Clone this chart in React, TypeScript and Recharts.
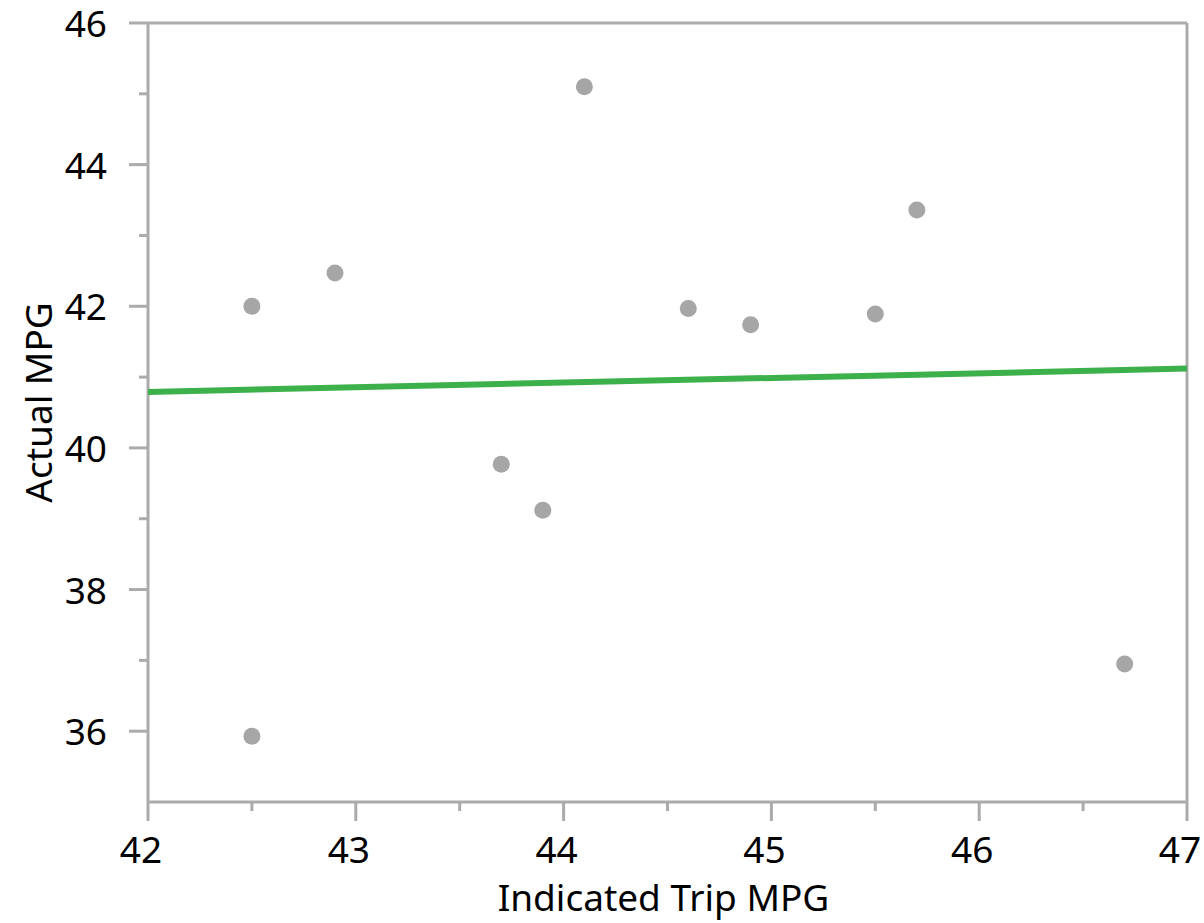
import { ScatterChart, Scatter, XAxis, YAxis, ReferenceLine, Label } from 'recharts';

const indicatedMpg = [42.5, 42.9, 42.5, 43.7, 43.9, 44.1, 44.6, 44.9, 45.5, 45.7, 46.7];
const actualMpg = [42.0, 42.47, 35.93, 39.77, 39.12, 45.1, 41.97, 41.74, 41.89, 43.36, 36.95];

const trendX = [42, 47];
const trendY = [40.79, 41.12];

const xTicks = [42, 42.5, 43, 43.5, 44, 44.5, 45, 45.5, 46, 46.5, 47];
const yTicks = [35, 36, 37, 38, 39, 40, 41, 42, 43, 44, 45, 46];

const points = indicatedMpg.map((x, i) => ({ x, y: actualMpg[i] }));
const trend = trendX.map((x, i) => ({ x, y: trendY[i] }));

const AXIS = '#ababab';
const FONT = '"Noto Sans", "Open Sans", sans-serif';
const FS = 37;

const XTick = (props: any) => {
  const { x, y, payload } = props;
  const major = Number.isInteger(payload.value);
  // y is the text position: axis line + tickSize + tickMargin
  const top = y - 35;
  return (
    <g>
      <line x1={x} x2={x} y1={top} y2={top + (major ? 19 : 9)} stroke={AXIS} strokeWidth={3} />
      {major && (
        <text x={x - 7} y={y} dy="0.71em" textAnchor="middle" fill="#000" fontSize={FS} fontFamily={FONT}>
          {payload.value}
        </text>
      )}
    </g>
  );
};

const YTick = (props: any) => {
  const { x, y, payload } = props;
  const major = payload.value % 2 === 0;
  const axisX = x + 41;
  if (payload.value === 35) return null;
  return (
    <g>
      <line x1={axisX - (major ? 19 : 9)} x2={axisX} y1={y} y2={y} stroke={AXIS} strokeWidth={3} />
      {major && (
        <text x={x} y={y} dy="0.38em" textAnchor="end" fill="#000" fontSize={FS} fontFamily={FONT}>
          {payload.value}
        </text>
      )}
    </g>
  );
};

const Dot = (props: any) => <circle cx={props.cx} cy={props.cy} r={8.5} fill="#a6a6a6" />;

export default function App() {
  return (
    <div style={{ position: 'absolute', left: 0, top: 0 }}>
      <ScatterChart width={1204} height={923} margin={{ top: 23, right: 17, left: 0, bottom: 0 }}>
        <XAxis
          type="number"
          dataKey="x"
          domain={[42, 47]}
          ticks={xTicks}
          interval={0}
          height={121}
          tickLine={false}
          tickSize={20}
          tickMargin={15}
          tick={<XTick />}
          axisLine={{ stroke: AXIS, strokeWidth: 3 }}
          allowDataOverflow
        >
          <Label
            value="Indicated Trip MPG"
            position="insideBottom"
            offset={12}
            dx={-4}
            fill="#000"
            fontSize={FS}
            fontFamily={FONT}
          />
        </XAxis>
        <YAxis
          type="number"
          dataKey="y"
          domain={[35, 46]}
          ticks={yTicks}
          interval={0}
          width={148}
          tickLine={false}
          tickSize={20}
          tickMargin={21}
          tick={<YTick />}
          axisLine={{ stroke: AXIS, strokeWidth: 3 }}
          allowDataOverflow
        >
          <Label
            value="Actual MPG"
            angle={-90}
            position="insideLeft"
            offset={0}
            dx={39}
            dy={-10}
            fill="#000"
            fontSize={FS}
            fontFamily={FONT}
            style={{ textAnchor: 'middle' }}
          />
        </YAxis>
        <ReferenceLine y={46} stroke={AXIS} strokeWidth={3} />
        <ReferenceLine x={47} stroke={AXIS} strokeWidth={3} />
        <Scatter data={points} shape={<Dot />} isAnimationActive={false} />
        <Scatter
          data={trend}
          line={{ stroke: '#3cb04a', strokeWidth: 6 }}
          shape={() => <g />}
          isAnimationActive={false}
        />
      </ScatterChart>
    </div>
  );
}
